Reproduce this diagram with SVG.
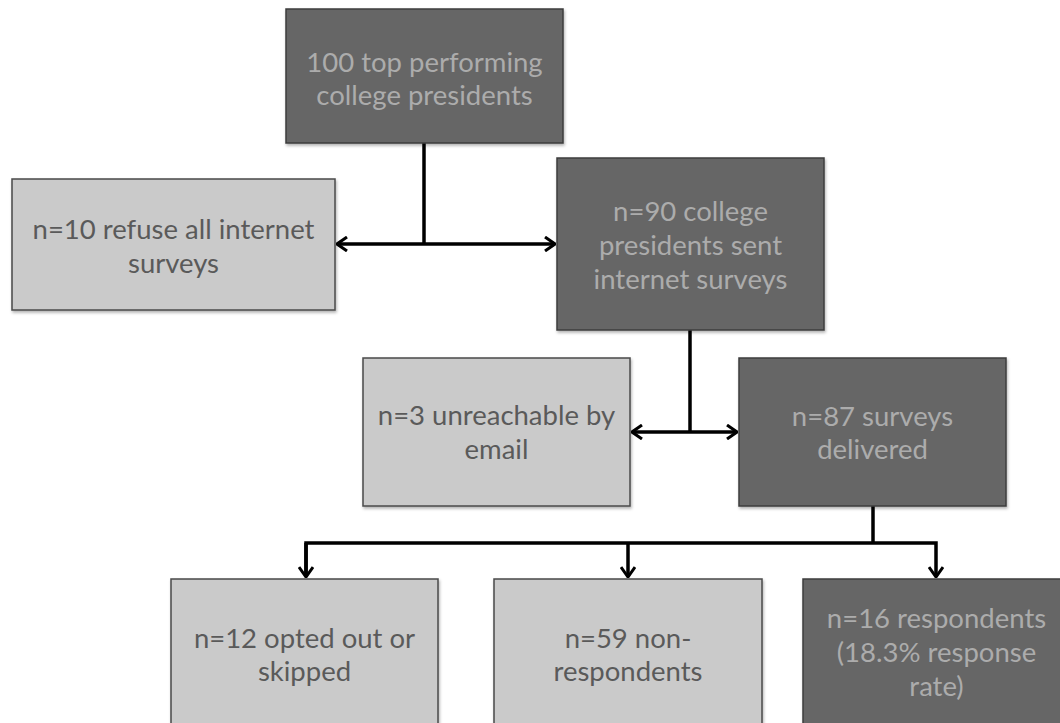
<svg xmlns="http://www.w3.org/2000/svg" width="1060" height="723" viewBox="0 0 1060 723">
<style>
.dark{fill:#666666;stroke:#3c3c3c;stroke-width:1.5}
.light{fill:#cacaca;stroke:#4a4a4a;stroke-width:1.5}
.t{font-family:Lato,"Open Sans",sans-serif;font-size:27.5px;text-anchor:middle}
.td{fill:#acacac}
.tl{fill:#5a5a5a}
.c{fill:none;stroke:#000;stroke-width:3.5}
</style>
<defs>
<marker id="ah" viewBox="0 0 12 16" refX="11" refY="8" markerWidth="12" markerHeight="16" markerUnits="userSpaceOnUse" orient="auto">
<path d="M1,1 L11,8 L1,15" fill="none" stroke="#000" stroke-width="3"/>
</marker>
<filter id="sh" x="-5%" y="-5%" width="110%" height="110%">
<feDropShadow dx="1" dy="2" stdDeviation="1.5" flood-color="#000" flood-opacity="0.3"/>
</filter>
</defs>
<rect width="1060" height="723" fill="#fff"/>
<g id="connectors">
<path class="c" d="M424,143 V244"/>
<path class="c" d="M424,244 H337" marker-end="url(#ah)"/>
<path class="c" d="M424,244 H555" marker-end="url(#ah)"/>
<path class="c" d="M690,330 V432"/>
<path class="c" d="M690,432 H632" marker-end="url(#ah)"/>
<path class="c" d="M690,432 H737" marker-end="url(#ah)"/>
<path class="c" d="M873,506 V543"/>
<path class="c" d="M306,577 V543 H936 V577" marker-end="url(#ah)"/>
<path class="c" d="M306,543 V577" marker-end="url(#ah)"/>
<path class="c" d="M628,543 V577" marker-end="url(#ah)"/>
</g>
<g id="n100">
<rect class="dark" filter="url(#sh)" x="286" y="9" width="277" height="134"/>
<text class="t td" x="424.5" y="72">100 top performing</text>
<text class="t td" x="424.5" y="105">college presidents</text>
</g>
<g id="n10">
<rect class="light" filter="url(#sh)" x="12" y="179" width="323" height="131"/>
<text class="t tl" x="173.5" y="239">n=10 refuse all internet</text>
<text class="t tl" x="173.5" y="273">surveys</text>
</g>
<g id="n90">
<rect class="dark" filter="url(#sh)" x="557" y="158" width="267" height="172"/>
<text class="t td" x="690.5" y="221">n=90 college</text>
<text class="t td" x="690.5" y="255">presidents sent</text>
<text class="t td" x="690.5" y="289">internet surveys</text>
</g>
<g id="n3">
<rect class="light" filter="url(#sh)" x="363" y="358" width="267" height="148"/>
<text class="t tl" x="496.5" y="425">n=3 unreachable by</text>
<text class="t tl" x="496.5" y="459">email</text>
</g>
<g id="n87">
<rect class="dark" filter="url(#sh)" x="739" y="358" width="267" height="148"/>
<text class="t td" x="872.5" y="426">n=87 surveys</text>
<text class="t td" x="872.5" y="459">delivered</text>
</g>
<g id="n12">
<rect class="light" filter="url(#sh)" x="171" y="579" width="267" height="170"/>
<text class="t tl" x="304.5" y="648">n=12 opted out or</text>
<text class="t tl" x="304.5" y="681">skipped</text>
</g>
<g id="n59">
<rect class="light" filter="url(#sh)" x="494" y="579" width="268" height="170"/>
<text class="t tl" x="628" y="648">n=59 non-</text>
<text class="t tl" x="628" y="681">respondents</text>
</g>
<g id="n16">
<rect class="dark" filter="url(#sh)" x="803" y="579" width="267" height="170"/>
<text class="t td" x="936.5" y="628">n=16 respondents</text>
<text class="t td" x="936.5" y="662">(18.3% response</text>
<text class="t td" x="936.5" y="696">rate)</text>
</g>
</svg>
